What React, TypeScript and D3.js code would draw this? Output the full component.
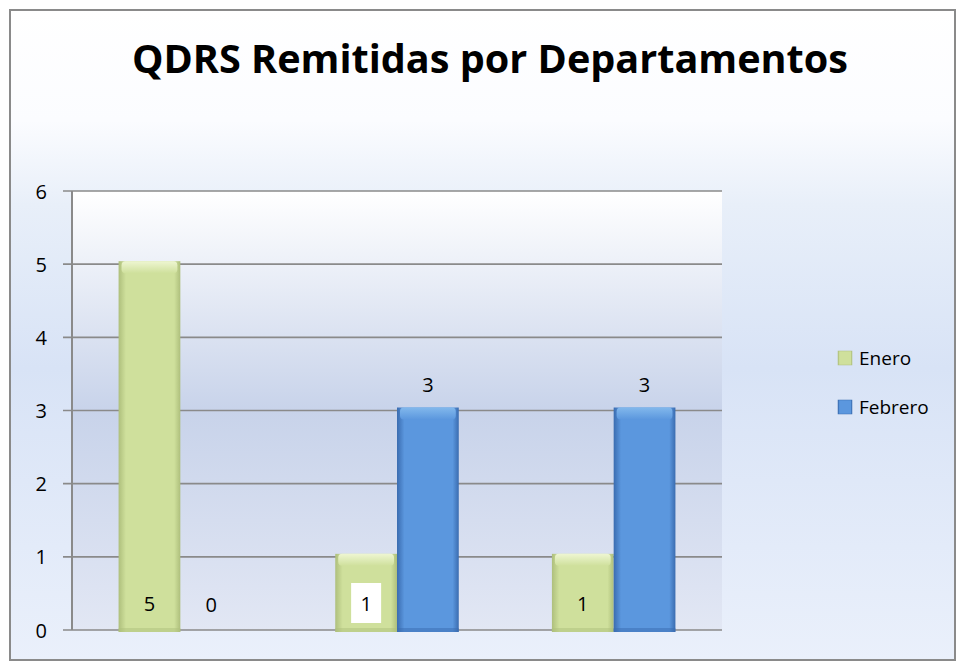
import * as d3 from "d3";

// chart data
const categories = ["Dep 1", "Dep 2", "Dep 3"];
const seriesNames = ["Enero", "Febrero"];
const enero = [5, 1, 1];
const febrero = [0, 3, 3];
const yTicks = [0, 1, 2, 3, 4, 5, 6];

const W = 959;
const H = 668;

const plot = { left: 72, right: 722, top: 191, bottom: 630 };

const colors: Record<string, { base: string; dark: string; light: string }> = {
  Enero: { base: "#cfe09c", dark: "#aebf7c", light: "#eef6d2" },
  Febrero: { base: "#5b97de", dark: "#3a6cb0", light: "#82b8ec" },
};

export default function App() {
  const x0 = d3
    .scaleBand<string>()
    .domain(categories)
    .range([plot.left, plot.right])
    .paddingInner(0.43)
    .paddingOuter(0.215);
  const x1 = d3.scaleBand<string>().domain(seriesNames).range([0, x0.bandwidth()]);
  const y = d3.scaleLinear().domain([0, 6]).range([plot.bottom, plot.top]);

  const values: Record<string, number[]> = { Enero: enero, Febrero: febrero };
  const font = "Open Sans, sans-serif";

  return (
    <svg width={W} height={H} style={{ position: "absolute", left: 0, top: 0 }}>
      <defs>
        <linearGradient id="chartBg" x1="0" y1="0" x2="0" y2="1">
          <stop offset="0" stopColor="#ffffff" />
          <stop offset="0.17" stopColor="#fbfcff" />
          <stop offset="0.3" stopColor="#e8eff9" />
          <stop offset="0.55" stopColor="#d8e3f6" />
          <stop offset="1" stopColor="#eaf0fb" />
        </linearGradient>
        <linearGradient id="plotBg" x1="0" y1="0" x2="0" y2="1">
          <stop offset="0" stopColor="#ffffff" />
          <stop offset="0.5" stopColor="#c8d3ea" />
          <stop offset="1" stopColor="#e2e7f4" />
        </linearGradient>
        {seriesNames.map((s) => (
          <linearGradient key={s} id={`bar-${s}`} x1="0" y1="0" x2="1" y2="0">
            <stop offset="0" stopColor={colors[s].dark} />
            <stop offset="0.12" stopColor={colors[s].base} />
            <stop offset="0.9" stopColor={colors[s].base} />
            <stop offset="1" stopColor={colors[s].dark} />
          </linearGradient>
        ))}
        {seriesNames.map((s) => (
          <linearGradient key={s + "top"} id={`top-${s}`} x1="0" y1="0" x2="0" y2="1">
            <stop offset="0" stopColor={colors[s].light} />
            <stop offset="1" stopColor={colors[s].base} />
          </linearGradient>
        ))}
      </defs>

      {/* chart frame */}
      <rect x={10} y={10} width={945} height={650} fill="url(#chartBg)" stroke="#8a8a8a" strokeWidth={2} />

      {/* plot area */}
      <rect
        x={plot.left}
        y={plot.top}
        width={plot.right - plot.left}
        height={plot.bottom - plot.top}
        fill="url(#plotBg)"
      />

      {/* gridlines + ticks */}
      {yTicks.map((t) => (
        <g key={t}>
          <line x1={63} x2={plot.right} y1={y(t)} y2={y(t)} stroke="#8a8a8a" strokeWidth={1.6} />
          <text
            x={47}
            y={y(t)}
            textAnchor="end"
            dominantBaseline="central"
            fontFamily={font}
            fontSize={20}
            fill="#000"
          >
            {t}
          </text>
        </g>
      ))}
      <line x1={plot.left} x2={plot.left} y1={plot.top} y2={plot.bottom} stroke="#8a8a8a" strokeWidth={2} />

      {/* bars */}
      {seriesNames.map((s) =>
        categories.map((c, i) => {
          const v = values[s][i];
          if (v <= 0) return null;
          const bx = (x0(c) ?? 0) + (x1(s) ?? 0);
          const bw = x1.bandwidth();
          const top = y(v) - 3;
          return (
            <g key={s + c}>
              <rect x={bx} y={top} width={bw} height={plot.bottom + 2 - top} fill={`url(#bar-${s})`} />
              <rect x={bx + 3} y={top} width={bw - 6} height={12} rx={4} fill={`url(#top-${s})`} />
              <rect x={bx} y={plot.bottom - 2} width={bw} height={4} fill={colors[s].dark} opacity={0.5} />
            </g>
          );
        })
      )}

      {/* value labels: Enero inside base, Febrero outside end */}
      {categories.map((c, i) => {
        const bw = x1.bandwidth();
        const ex = (x0(c) ?? 0) + (x1("Enero") ?? 0) + bw / 2;
        const fx = (x0(c) ?? 0) + (x1("Febrero") ?? 0) + bw / 2;
        const ey = y(0) - 27;
        const fy = y(febrero[i]) - 26;
        return (
          <g key={"lbl" + c} fontFamily={font} fontSize={20} fill="#000">
            {i === 1 && <rect x={ex - 15} y={ey - 20} width={30} height={40} fill="#ffffff" />}
            <text x={ex} y={ey} textAnchor="middle" dominantBaseline="central">
              {enero[i]}
            </text>
            <text x={fx} y={fy} textAnchor="middle" dominantBaseline="central">
              {febrero[i]}
            </text>
          </g>
        );
      })}

      {/* title */}
      <text
        x={490}
        y={73}
        textAnchor="middle"
        fontFamily={font}
        fontWeight="bold"
        fontSize={39}
        textLength={716}
        lengthAdjust="spacingAndGlyphs"
        fill="#000"
      >
        QDRS Remitidas por Departamentos
      </text>

      {/* legend */}
      {seriesNames.map((s, i) => {
        const ly = 358 + i * 49;
        return (
          <g key={"leg" + s}>
            <rect x={838} y={ly - 7} width={14} height={14} fill={`url(#bar-${s})`} stroke={colors[s].dark} strokeWidth={0.5} />
            <text x={859} y={ly} dominantBaseline="central" fontFamily={font} fontSize={19} fill="#000">
              {s}
            </text>
          </g>
        );
      })}
    </svg>
  );
}
